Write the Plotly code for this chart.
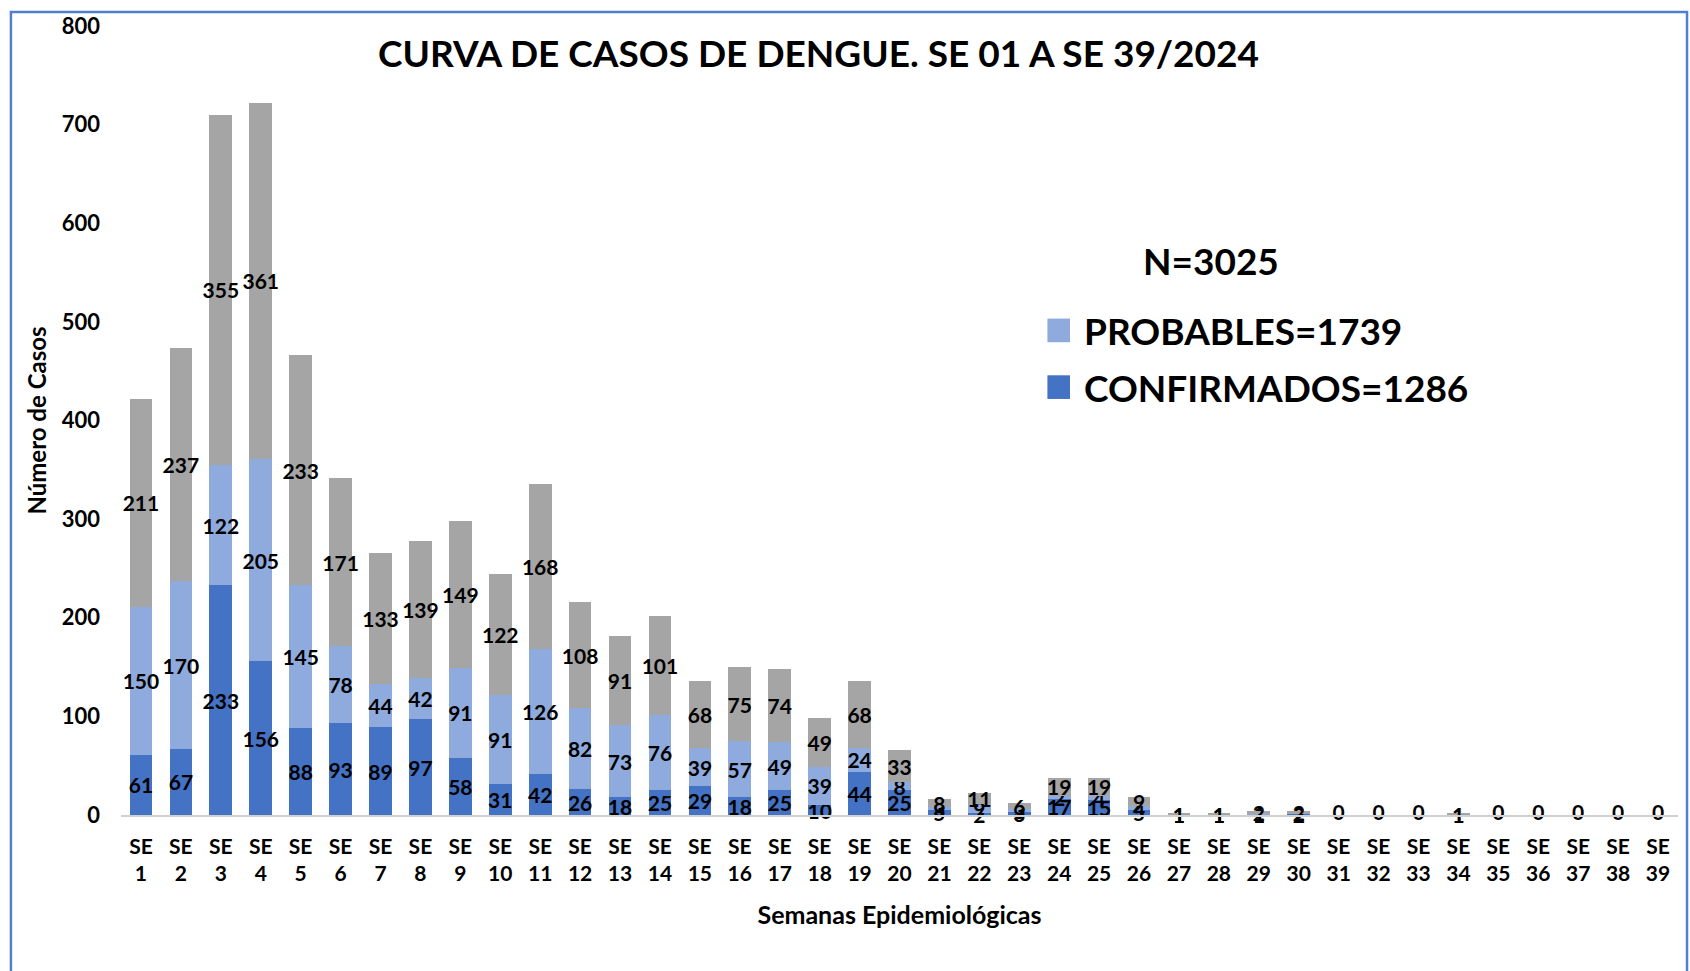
import plotly.graph_objects as go

weeks = [f"SE<br>{i}" for i in range(1, 40)]
confirmados = [61, 67, 233, 156, 88, 93, 89, 97, 58, 31, 42, 26, 18, 25, 29, 18, 25, 10, 44, 25,
               5, 2, 3, 17, 15, 5, 0, 1, 1, 2, 0, 0, 0, 0, 0, 0, 0, 0, 0]
probables = [150, 170, 122, 205, 145, 78, 44, 42, 91, 91, 126, 82, 73, 76, 39, 57, 49, 39, 24, 8,
             3, 9, 3, 2, 4, 4, 1, 0, 1, 0, 0, 0, 0, 1, 0, 0, 0, 0, 0]
totales = [c + p for c, p in zip(confirmados, probables)]

title_text = "CURVA DE CASOS DE DENGUE. SE 01 A SE 39/2024"
y_ticks = [0, 100, 200, 300, 400, 500, 600, 700, 800]

FONT = "Lato"
C_CONF = "#4472C4"
C_PROB = "#8FAADC"
C_TOT = "#A5A5A5"
LBL = 21

fig = go.Figure()
for vals, col, name in [(confirmados, C_CONF, "CONFIRMADOS"),
                        (probables, C_PROB, "PROBABLES"),
                        (totales, C_TOT, "TOTAL")]:
    fig.add_trace(go.Bar(
        x=weeks, y=vals, name=name, marker=dict(color=col, line=dict(width=0)),
        text=[str(v) for v in vals], textposition="inside", insidetextanchor="middle",
        textangle=0, constraintext="none", cliponaxis=False,
        textfont=dict(family=FONT, size=LBL, color="black", weight="bold"),
        showlegend=False,
    ))

# labels for weeks without cases (zero-height bars draw no text)
zero_weeks = [w for w, t in zip(weeks, totales) if t == 0]
fig.add_trace(go.Scatter(
    x=zero_weeks, y=[0] * len(zero_weeks), mode="text", text=["0"] * len(zero_weeks),
    textposition="middle center", cliponaxis=False,
    textfont=dict(family=FONT, size=LBL, color="black", weight="bold"), showlegend=False,
))

fig.update_layout(
    width=1690, height=971, autosize=False,
    barmode="stack", bargap=0.43,
    plot_bgcolor="white", paper_bgcolor="white",
    margin=dict(l=121, r=12, t=18, b=156),
    uniformtext=dict(minsize=LBL, mode="show"),
    font=dict(family=FONT, color="black"),
    showlegend=False,
)
fig.update_xaxes(
    range=[-0.5, len(weeks) - 0.5], autorange=False,
    showgrid=False, showline=True, linecolor="#D0D0D0", linewidth=1.5,
    ticks="", ticklabelstandoff=12,
    tickfont=dict(family=FONT, size=21, color="black", weight="bold"),
    title=dict(text="Semanas Epidemiológicas", font=dict(family=FONT, size=25, weight="bold"), standoff=22),
)
fig.update_yaxes(
    range=[0, 800], tickvals=y_ticks, showgrid=False, zeroline=False, showline=False,
    tickfont=dict(family=FONT, size=22, color="black", weight="bold"), ticklabelstandoff=20,
    title=dict(text="Número de Casos", font=dict(family=FONT, size=24, weight="bold"), standoff=8),
)

# title
fig.add_annotation(text=title_text, xref="paper", yref="paper", x=0.4477, y=0.9659,
                   showarrow=False, font=dict(family=FONT, size=37, weight="bold", color="black"),
                   xanchor="center", yanchor="middle")
# custom legend
fig.add_annotation(text="N=3025", xref="paper", yref="paper", x=0.700, y=0.7032,
                   showarrow=False, font=dict(family=FONT, size=37, weight="bold"),
                   xanchor="center", yanchor="middle")
for label, col, yy in [("PROBABLES=1739", C_PROB, 0.6142), ("CONFIRMADOS=1286", C_CONF, 0.5423)]:
    fig.add_shape(type="rect", xref="paper", yref="paper", x0=0.595, x1=0.6095,
                  y0=yy - 0.015, y1=yy + 0.015, fillcolor=col, line=dict(width=0))
    fig.add_annotation(text=label, xref="paper", yref="paper", x=0.617, y=yy,
                       showarrow=False, font=dict(family=FONT, size=37, weight="bold"),
                       xanchor="left", yanchor="middle")

# outer border
fig.add_shape(type="rect", xref="paper", yref="paper", x0=-0.0707, x1=1.0058, y0=-0.25, y1=1.0176,
              line=dict(color="#4F7FD0", width=2.5), fillcolor="rgba(0,0,0,0)", layer="above")

fig.write_html("out.html", config={"displayModeBar": False},
               post_script="document.body.style.margin='0';")
